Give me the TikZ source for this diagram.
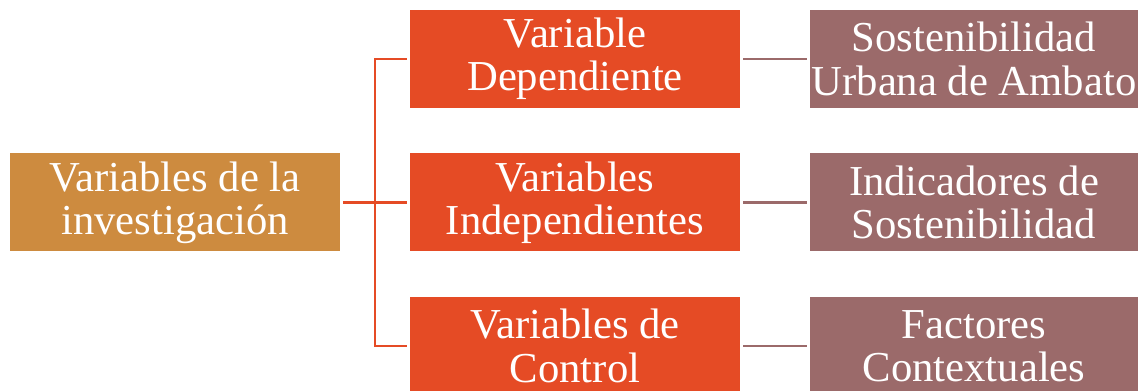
\documentclass[tikz,border=0pt]{standalone}
\usepackage{fontspec}
\setmainfont{Liberation Serif}
\definecolor{rootcol}{HTML}{CD8B3F}
\definecolor{typecol}{HTML}{E54B25}
\definecolor{itemcol}{HTML}{9B6A6A}
\begin{document}
\begin{tikzpicture}[x = 0.75pt, y = -0.75pt,
    box/.style = {minimum width = 247.5pt, minimum height = 73.5pt, inner sep = 0pt, text = white, align = center, font = \fontsize{32}{32.5}\selectfont},
    rootbox/.style = {box, fill = rootcol},
    typebox/.style = {box, fill = typecol},
    itembox/.style = {box, fill = itemcol, minimum width = 246pt},
    branch/.style = {draw = typecol, line width = 1.6pt},
    leaf/.style = {draw = itemcol, line width = 1.6pt}]
    \useasboundingbox (0,0) rectangle (1141,391);
    \clip (0,0) rectangle (1141,391);
    \node[rootbox] (inv) at (175,202.5) {Variables de la\\investigación};
    \node[typebox] (dep) at (575,59) {Variable\\Dependiente};
    \node[typebox] (ind) at (575,202.5) {Variables\\Independientes};
    \node[typebox] (ctl) at (575,346) {Variables de\\Control};
    \node[itembox] (sos) at (974,59) {Sostenibilidad\\Urbana de Ambato};
    \node[itembox] (ids) at (974,202.5) {Indicadores de\\Sostenibilidad};
    \node[itembox] (fac) at (974,346) {Factores\\Contextuales};
    \coordinate (jn) at (375,202.5);
    % tree from the root box
    \draw[branch, shorten <= 2.25pt] (inv.east) -- (jn);
    \draw[branch, shorten >= 2.25pt] (jn) -- (ind.west);
    \draw[branch, shorten >= 2.25pt] (jn) |- (dep.west);
    \draw[branch, shorten >= 2.25pt] (jn) |- (ctl.west);
    \foreach \a/\b in {dep/sos, ind/ids, ctl/fac} { \draw[leaf, shorten <= 2.25pt, shorten >= 2.25pt] (\a.east) -- (\b.west); }
\end{tikzpicture}
\end{document}
